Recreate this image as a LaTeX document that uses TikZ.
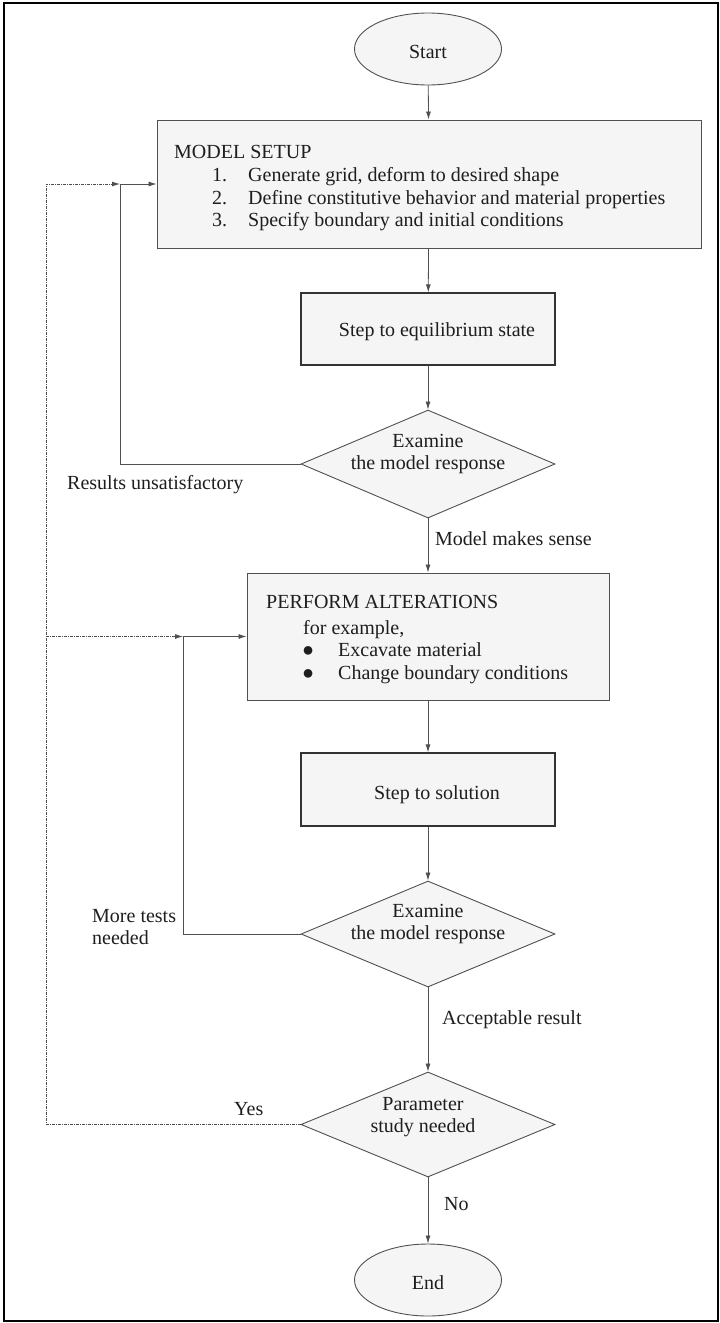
\documentclass[tikz,border=0pt]{standalone}
\usepackage{fontspec}
\setmainfont{Liberation Serif}
\usetikzlibrary{shapes.geometric,arrows.meta}
\definecolor{linegray}{HTML}{505050}
\definecolor{boxfill}{HTML}{F5F5F5}
\definecolor{txt}{HTML}{1E1E1E}
\begin{document}
\begin{tikzpicture}[x=1pt,y=-1pt,
  every node/.style={text=txt},
  txtfont/.style={font=\fontsize{20}{22.5}\selectfont},
  procbox/.style={draw=linegray,line width=0.9pt,fill=boxfill,rectangle,inner sep=0pt},
  stepbox/.style={draw=black!80,line width=1.3pt,fill=boxfill,rectangle,inner sep=0pt,minimum width=254pt},
  decision/.style={draw=linegray,line width=0.9pt,fill=boxfill,diamond,inner sep=0pt,minimum width=254pt},
  term/.style={draw=linegray,line width=0.9pt,fill=boxfill,ellipse,inner sep=0pt,minimum width=147pt,minimum height=72pt},
  lbl/.style={txtfont,inner sep=0pt,anchor=base west},
  ctr/.style={txtfont,inner sep=0pt,align=center},
  flow/.style={draw=linegray,line width=0.8pt,-{Latex[length=8pt,width=5pt]}},
  plain/.style={draw=linegray,line width=0.8pt},
  dotflow/.style={draw=linegray,line width=0.8pt,dash pattern=on 3pt off 1pt on 1pt off 1pt,-{Latex[length=8pt,width=5pt]}},
]
\useasboundingbox (0,0) rectangle (720,1323);
\draw[black,line width=2pt] (4,3) rectangle (718,1321);

% nodes
\node[term] (start) at (428,49) {};
\node[ctr] (starttxt) at (428,52) {Start};

\node[procbox,minimum width=544pt,minimum height=128pt] (setup) at (429,184) {};
\node[lbl] (setuph) at (174,158) {MODEL SETUP};
\node[lbl] (n1) at (212,181) {1.};
\node[lbl] (t1) at (248,181) {Generate grid, deform to desired shape};
\node[lbl] (n2) at (212,204) {2.};
\node[lbl] (t2) at (248,204) {Define constitutive behavior and material properties};
\node[lbl] (n3) at (212,226) {3.};
\node[lbl] (t3) at (248,226) {Specify boundary and initial conditions};

\node[stepbox,minimum height=72pt] (step1) at (428,329) {};
\node[ctr] (step1txt) at (437,332) {Step to equilibrium state};

\node[decision,minimum height=108pt] (d1) at (428,464) {};
\node[ctr] (d1txt) at (428,454) {Examine\\the model response};

\node[lbl] (unsat) at (67,489) {Results unsatisfactory};
\node[lbl] (sense) at (435,545) {Model makes sense};

\node[procbox,minimum width=362pt,minimum height=127pt] (perf) at (428,636.5) {};
\node[lbl] (perfh) at (266,608) {PERFORM ALTERATIONS};
\node[lbl] (forex) at (303,634) {for example,};
\node[lbl] (b1) at (302,656) {●};
\node[lbl] (e1) at (338,656) {Excavate material};
\node[lbl] (b2) at (302,679) {●};
\node[lbl] (e2) at (338,679) {Change boundary conditions};

\node[stepbox,minimum height=73pt] (step2) at (428,789.5) {};
\node[ctr] (step2txt) at (437,795) {Step to solution};

\node[decision,minimum height=106pt] (d2) at (428,934) {};
\node[ctr] (d2txt) at (428,924) {Examine\\the model response};

\node[lbl] (more1) at (92,922) {More tests};
\node[lbl] (more2) at (92,944) {needed};

\node[lbl] (accept) at (442,1024) {Acceptable result};

\node[decision,minimum height=105pt] (d3) at (428,1124.5) {};
\node[ctr] (d3txt) at (423,1117) {Parameter\\study needed};

\node[lbl] (yes) at (234,1115) {Yes};
\node[lbl] (no) at (444,1210) {No};

\node[term] (end) at (428,1280) {};
\node[ctr] (endtxt) at (428,1283) {End};

% junctions
\coordinate (j1) at (120,184);
\coordinate (j1b) at (120,464);
\coordinate (j2) at (183,636.5);
\coordinate (j2b) at (183,934);
\coordinate (jd) at (46,184);
\coordinate (jd2) at (46,636.5);
\coordinate (jd3) at (46,1124.5);

% connectors
\draw[flow] (start) -- (setup);
\draw[flow] (setup) -- (step1);
\draw[flow] (step1) -- (d1);
\draw[flow] (d1) -- (perf);
\draw[flow] (perf) -- (step2);
\draw[flow] (step2) -- (d2);
\draw[flow] (d2) -- (d3);
\draw[flow] (d3) -- (end);

\draw[flow] (d1.west) -- (j1b) -- (j1) -- (setup.west);
\draw[flow] (d2.west) -- (j2b) -- (j2) -- (perf.west);
\draw[dotflow] (d3.west) -- (jd3) -- (jd) -- (j1);
\draw[dotflow] (jd2) -- (j2);
\end{tikzpicture}
\end{document}
